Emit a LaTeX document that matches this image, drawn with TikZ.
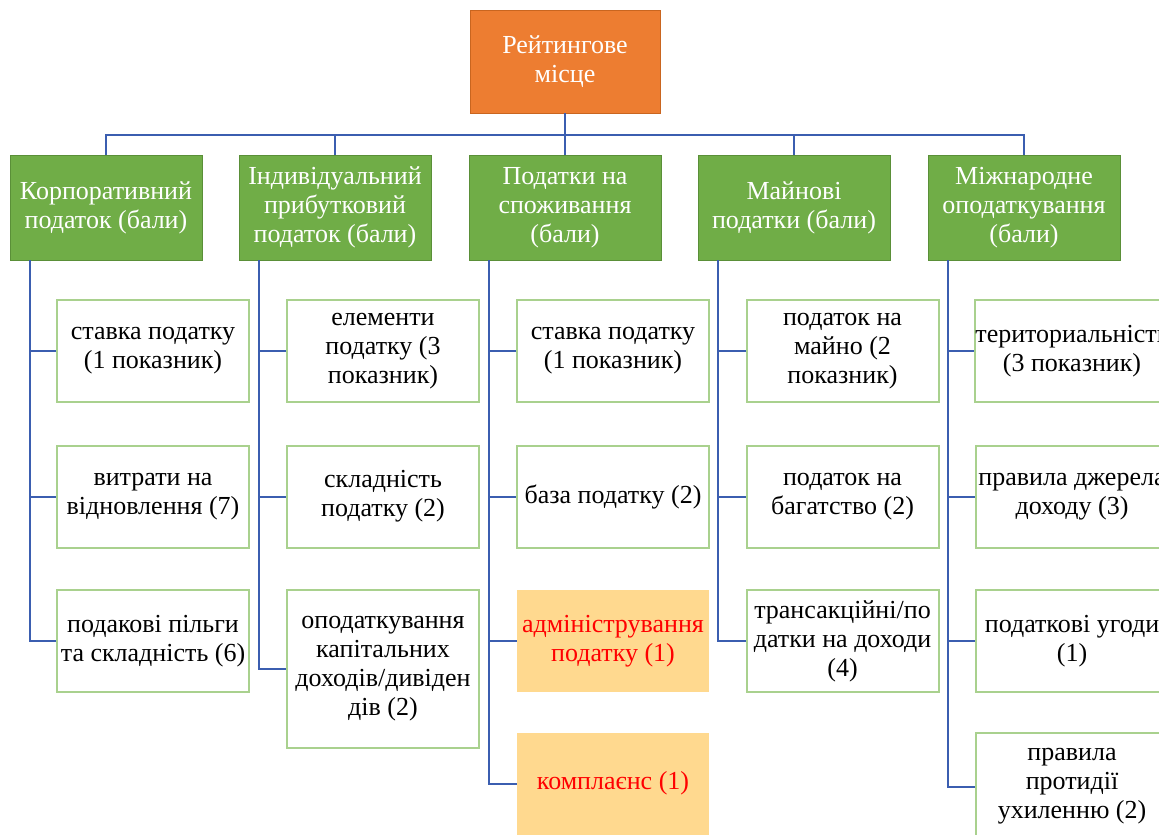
\documentclass[tikz,border=0pt]{standalone}
\usepackage{fontspec}
\setmainfont{Liberation Serif}
\definecolor{topfill}{HTML}{ED7D31}
\definecolor{topline}{HTML}{C9651F}
\definecolor{catfill}{HTML}{70AD47}
\definecolor{catline}{HTML}{5A8F38}
\definecolor{leafline}{HTML}{A9D18E}
\definecolor{hlfill}{HTML}{FFD98F}
\definecolor{connline}{HTML}{3B5EB0}
\tikzset{
  topbox/.style={draw=topline, fill=topfill, text=white, minimum width=95pt, minimum height=51.5pt, inner sep=0pt, align=center},
  catbox/.style={draw=catline, fill=catfill, text=white, minimum width=96pt, minimum height=52.5pt, inner sep=0pt, align=center},
  leafbox/.style={draw=leafline, line width=1pt, fill=white, minimum width=96pt, minimum height=51pt, inner sep=0pt, align=center},
  hlbox/.style={fill=hlfill, text=red, minimum width=96pt, minimum height=51pt, inner sep=0pt, align=center},
  conn/.style={draw=connline, line width=1pt}
}

\begin{document}
\begin{tikzpicture}[x=0.5pt, y=-0.5pt, font=\fontsize{13}{14.5}\selectfont]
\useasboundingbox (0,0) rectangle (1159,834);
\clip (0,0) rectangle (1159,834);

\node[topbox] (top) at (565,61.5) {Рейтингове\\місце};

\node[catbox] (corp) at (106,207.5) {Корпоративний\\податок (бали)};
\node[catbox] (indiv) at (335,207.5) {Індивідуальний\\прибутковий\\податок (бали)};
\node[catbox] (cons) at (565,207.5) {Податки на\\споживання\\(бали)};
\node[catbox] (prop) at (794,207.5) {Майнові\\податки (бали)};
\node[catbox] (intl) at (1024,207.5) {Міжнародне\\оподаткування\\(бали)};

% leaves
\node[leafbox] (corp1) at (153,351) {ставка податку\\(1 показник)};
\node[leafbox] (corp2) at (153,496.5) {витрати на\\відновлення (7)};
\node[leafbox] (corp3) at (153,641) {подакові пільги\\та складність (6)};

\node[leafbox] (indiv1) at (383,351) {елементи\\податку (3\\показник)};
\node[leafbox] (indiv2) at (383,496.5) {складність\\податку (2)};
\node[leafbox, minimum height=79pt] (indiv3) at (383,669) {оподаткування\\капітальних\\доходів/дивіден\\дів (2)};

\node[leafbox] (cons1) at (613,351) {ставка податку\\(1 показник)};
\node[leafbox] (cons2) at (613,496.5) {база податку (2)};
\node[hlbox] (cons3) at (613,641) {адміністрування\\податку (1)};
\node[hlbox] (cons4) at (613,783.5) {комплаєнс (1)};

\node[leafbox] (prop1) at (842.5,351) {податок на\\майно (2\\показник)};
\node[leafbox] (prop2) at (842.5,496.5) {податок на\\багатство (2)};
\node[leafbox] (prop3) at (842.5,641) {трансакційні/по\\датки на доходи\\(4)};

\node[leafbox] (intl1) at (1072,351) {териториальність\\(3 показник)};
\node[leafbox] (intl2) at (1072,496.5) {правила джерела\\доходу (3)};
\node[leafbox] (intl3) at (1072,641) {податкові угоди\\(1)};
\node[leafbox, minimum height=54pt] (intl4) at (1072,786.5) {правила\\протидії\\ухиленню (2)};

% tree lines
\coordinate (bus) at (565,135);
\draw[conn] (corp.north) |- (bus) -| (intl.north);
\draw[conn] (top.south) -- (cons.north);
\foreach \c in {indiv,prop} \draw[conn] (\c.north) -- (\c.north |- bus);

\foreach \c in {corp,indiv,prop}
  \foreach \i in {1,2,3} \draw[conn] ([xshift=10pt]\c.south west) |- (\c\i.west);
\foreach \c in {cons,intl}
  \foreach \i in {1,2,3,4} \draw[conn] ([xshift=10pt]\c.south west) |- (\c\i.west);
\end{tikzpicture}
\end{document}
